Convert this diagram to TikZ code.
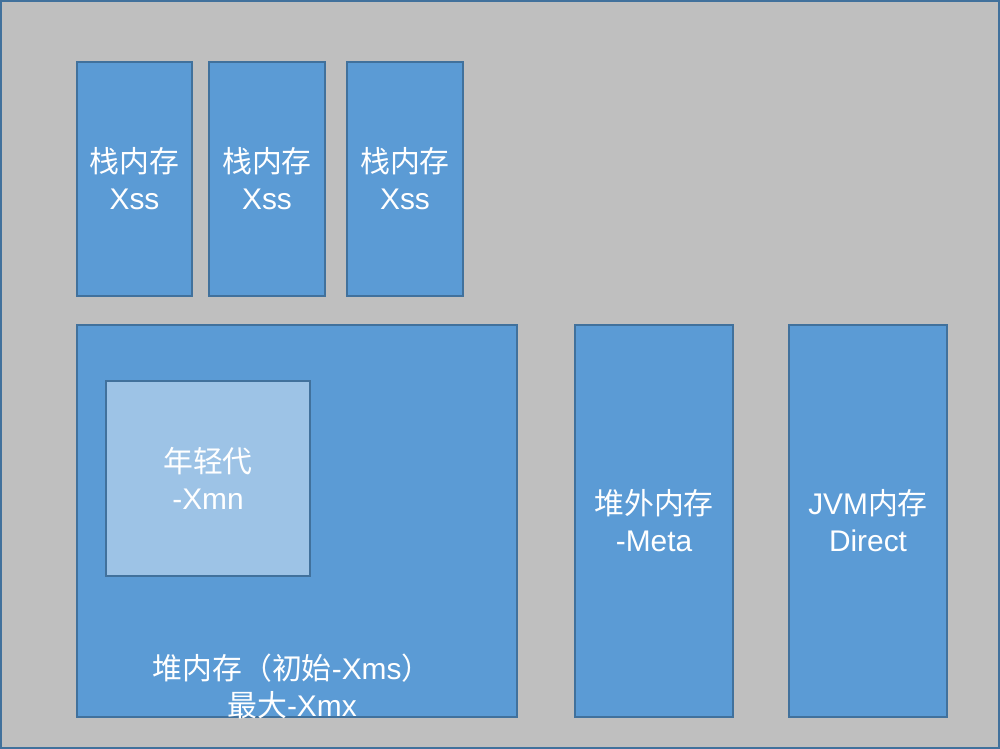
\documentclass[tikz,border=0pt]{standalone}
\usepackage{fontspec}
\setmainfont{Liberation Sans}
\newfontfamily\cjk{Noto Sans CJK SC}
\usepackage{tikz}
\usetikzlibrary{positioning,calc}
\usepackage{xcolor}
\definecolor{bgray}{RGB}{191,191,191}
\definecolor{edge}{RGB}{65,113,156}
\definecolor{memfill}{RGB}{91,155,213}
\definecolor{youngfill}{RGB}{157,195,230}
\tikzset{
  mem/.style={rectangle,draw=edge,fill=memfill,line width=0.8pt,inner sep=0pt,
    text=white,font=\fontsize{17}{21}\selectfont,align=center},
  young/.style={mem,fill=youngfill},
  lbl/.style={text=white,font=\fontsize{17}{21}\selectfont,align=center,inner sep=0pt},
}

\begin{document}
\begin{tikzpicture}
\useasboundingbox (0,0) rectangle (20,-14.98);
% outer frame
\draw[edge,fill=bgray,line width=1.2pt] (0.02,-0.02) rectangle (19.98,-14.96);
% thread stacks
\node[mem,minimum width=2.3cm,minimum height=4.68cm] (stackA) at (2.69,-3.58) {{\cjk 栈内存}\\Xss};
\node[mem,minimum width=2.32cm,minimum height=4.68cm] (stackB) at (5.34,-3.58) {{\cjk 栈内存}\\Xss};
\node[mem,minimum width=2.32cm,minimum height=4.68cm] (stackC) at (8.10,-3.58) {{\cjk 栈内存}\\Xss};
% heap with young generation
\node[mem,minimum width=8.8cm,minimum height=7.84cm] (heap) at (5.94,-10.42) {};
\node[young,minimum width=4.08cm,minimum height=3.9cm] (younggen) at (4.16,-9.57) {{\cjk 年轻代}\\-Xmn};
\node[lbl] (heaptxt) at ([xshift=-0.1cm,yshift=0.63cm]heap.south) {{\cjk 堆内存（初始}-Xms{\cjk ）}\\{\cjk 最大}-Xmx};
% off-heap and direct
\node[mem,minimum width=3.16cm,minimum height=7.84cm] (meta) at (13.08,-10.42) {{\cjk 堆外内存}\\-Meta};
\node[mem,minimum width=3.16cm,minimum height=7.84cm] (direct) at (17.36,-10.42) {JVM{\cjk 内存}\\Direct};
\end{tikzpicture}
\end{document}
